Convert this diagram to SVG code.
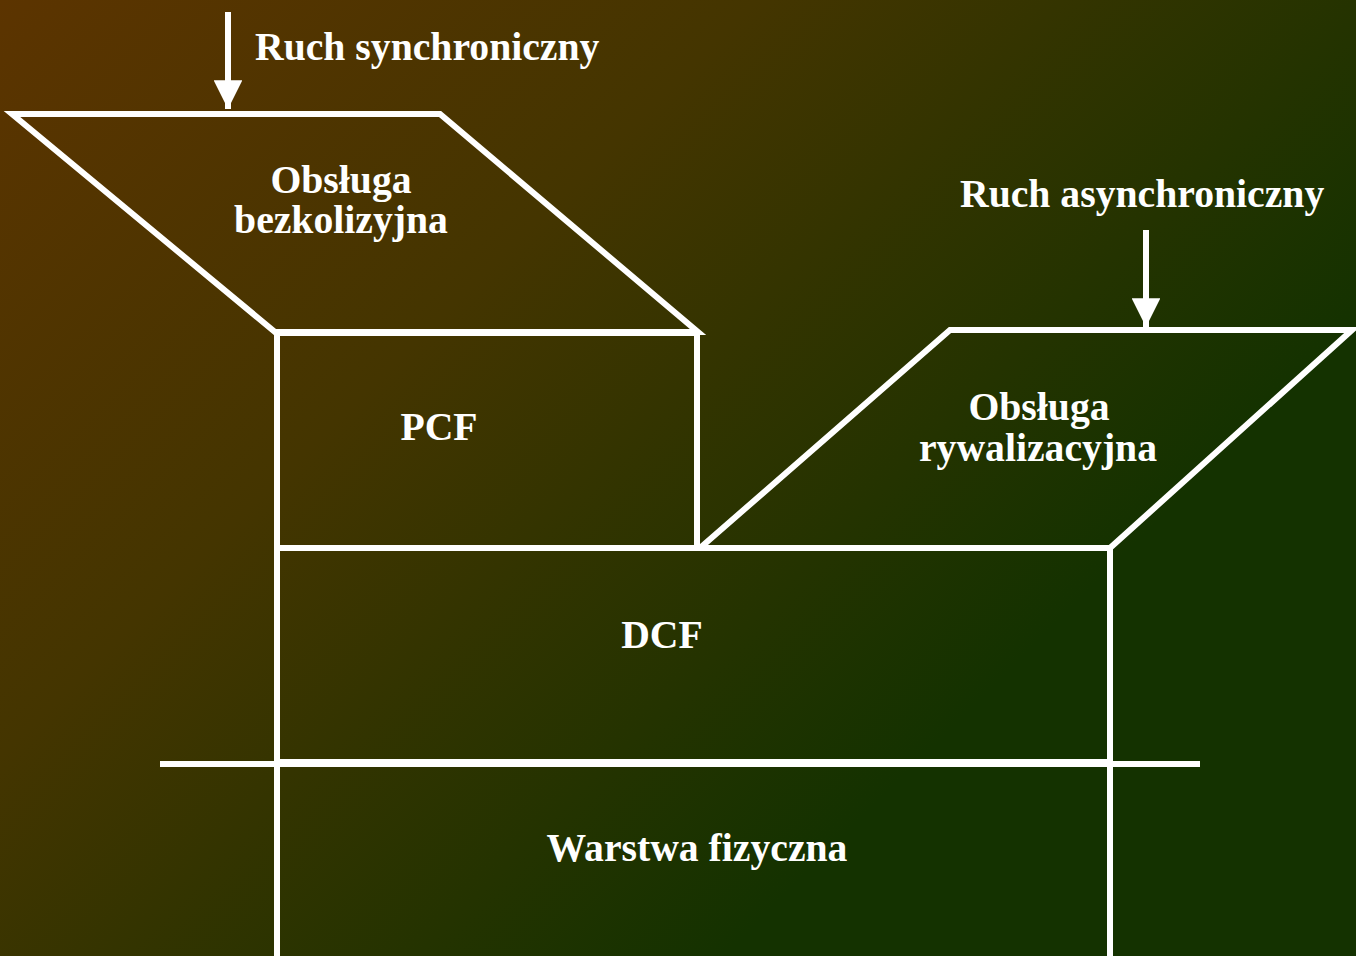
<svg xmlns="http://www.w3.org/2000/svg" width="1356" height="956" viewBox="0 0 1356 956">
<defs>
<linearGradient id="bg" gradientUnits="userSpaceOnUse" x1="0" y1="0" x2="840" y2="840">
<stop offset="0" stop-color="#5c3400"/>
<stop offset="0.45" stop-color="#443500"/>
<stop offset="1" stop-color="#143200"/>
</linearGradient>
<marker id="ah" viewBox="0 0 10 10" refX="10" refY="5" markerWidth="4.8" markerHeight="4.8" markerUnits="strokeWidth" orient="auto">
<path d="M0,0 L10,5 L0,10 Z" fill="#ffffff"/>
</marker>
</defs>
<style>
.ln{fill:none;stroke:#ffffff;stroke-width:6;stroke-linejoin:miter}
.t{font-family:"Liberation Serif","Times New Roman",serif;font-weight:bold;font-size:39.7px;fill:#ffffff}
.c{text-anchor:middle}
</style>
<rect x="0" y="0" width="1356" height="956" fill="url(#bg)"/>
<g id="connectors">
<line class="ln" x1="228" y1="12" x2="228" y2="109" marker-end="url(#ah)"/>
<line class="ln" x1="1146" y1="230" x2="1146" y2="327" marker-end="url(#ah)"/>
<line class="ln" x1="160" y1="764" x2="1200" y2="764"/>
</g>
<g id="label-sync">
<text class="t" x="255" y="60">Ruch synchroniczny</text>
</g>
<g id="label-async">
<text class="t" x="960" y="207">Ruch asynchroniczny</text>
</g>
<g id="node-bezkolizyjna">
<polygon class="ln" points="12,114 440,114 698,332 275,332"/>
<text class="t c" x="341" y="193">Obsługa</text>
<text class="t c" x="341" y="233">bezkolizyjna</text>
</g>
<g id="node-pcf">
<rect class="ln" x="277" y="333" width="420" height="215"/>
<text class="t c" x="439" y="440">PCF</text>
</g>
<g id="node-rywalizacyjna">
<polygon class="ln" points="950,330 1352,330 1110,548 700,548"/>
<text class="t c" x="1039" y="420">Obsługa</text>
<text class="t c" x="1038" y="461">rywalizacyjna</text>
</g>
<g id="node-dcf">
<rect class="ln" x="277" y="548" width="833" height="214"/>
<text class="t c" x="662" y="648">DCF</text>
</g>
<g id="node-phy">
<line class="ln" x1="277" y1="762" x2="277" y2="960"/>
<line class="ln" x1="1110" y1="762" x2="1110" y2="960"/>
<text class="t c" x="697" y="861">Warstwa fizyczna</text>
</g>
</svg>
